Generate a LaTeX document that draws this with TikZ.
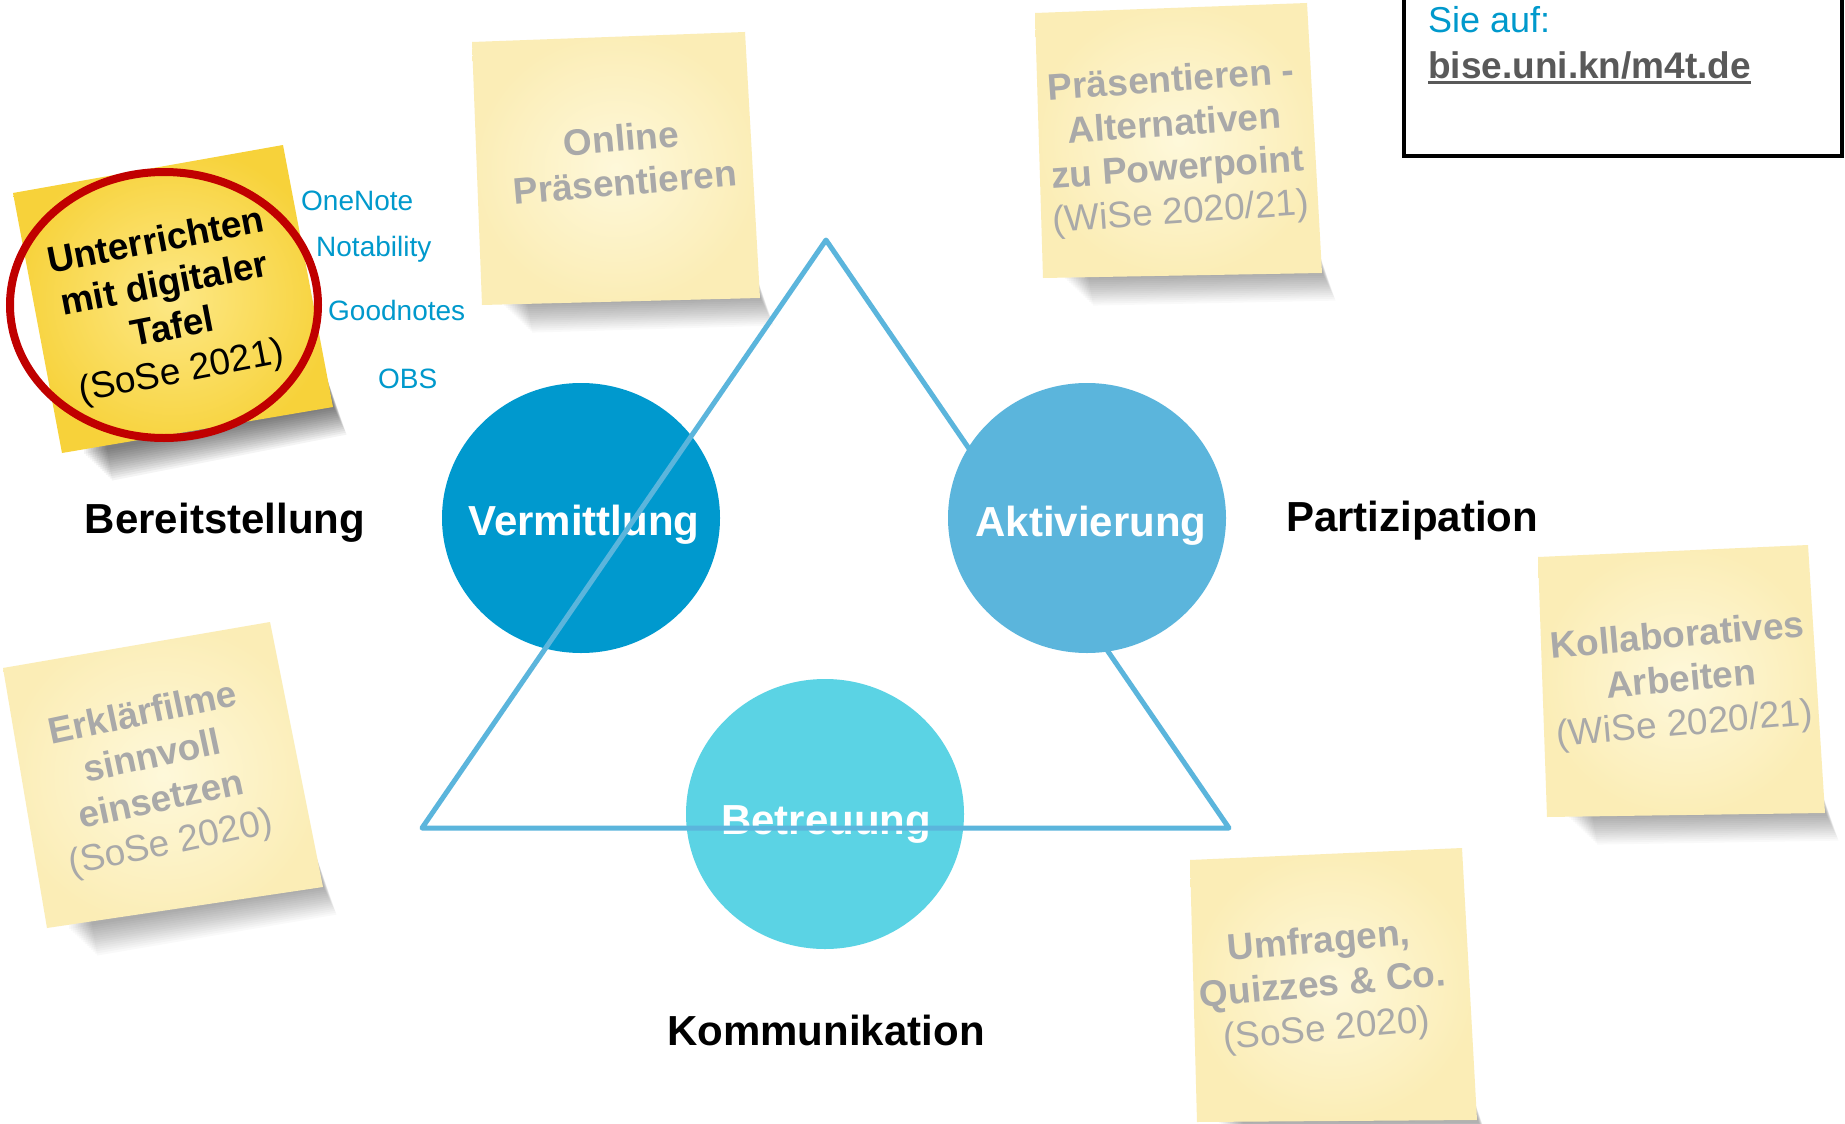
\documentclass[tikz,border=0pt]{standalone}
\usepackage{fontspec}
\setmainfont{Liberation Sans}
\usetikzlibrary{calc,shapes.geometric}
\definecolor{c1}{HTML}{0099CE}
\definecolor{c2}{HTML}{5BB5DC}
\definecolor{c3}{HTML}{5BD3E4}
\definecolor{tblue}{HTML}{0099CC}
\definecolor{ngray}{HTML}{A9A9A9}
\definecolor{noteA}{HTML}{FEF8DA}
\definecolor{noteB}{HTML}{FBEDB6}
\definecolor{yelA}{HTML}{FDE886}
\definecolor{yelB}{HTML}{F7D23A}
\definecolor{redring}{HTML}{C00000}
\definecolor{urlgray}{HTML}{595959}
\newcommand\stickynote[7]{% TL TR BR BL inner outer shadowopacity
  \foreach \k in {0,...,14}{
    \fill[black,opacity=#7] ($#4+(22+1.2*\k,-40)$) -- ($#3+(-10,-40)$) -- ($#3+(1+0.9*\k,1+1.9*\k)$) -- ($#4+(22+2*\k,1+1.9*\k)$) -- cycle;
  }
  \shade[inner color=#5, outer color=#6] #1 -- #2 -- #3 -- #4 -- cycle;
}
\tikzset{
  circtext/.style={text=white, font=\fontsize{42}{50}\selectfont\bfseries, inner sep=0, anchor=base},
  dimlabel/.style={text=black, font=\fontsize{42}{50}\selectfont\bfseries, inner sep=0, anchor=base},
  tool/.style={text=tblue, font=\fontsize{28}{34}\selectfont, inner sep=0, anchor=base west},
  notetext/.style={text=ngray, font=\fontsize{37}{44}\selectfont\bfseries, align=center, inner sep=0},
  bigcirc/.style={ellipse, minimum width=278pt, minimum height=270pt, inner sep=0},
  triline/.style={draw=c2, line width=5pt, line join=round, line cap=round},
}
\begin{document}
\begin{tikzpicture}[x=1pt,y=-1pt]
\useasboundingbox (0,0) rectangle (1845,1124);
\fill[white] (0,0) rectangle (1845,1124);

% sticky notes
\stickynote{(472,42)}{(745,32)}{(760,298)}{(482,305)}{noteA}{noteB}{0.022}
\stickynote{(1035,13)}{(1307,3)}{(1322,273)}{(1043,278)}{noteA}{noteB}{0.022}
\stickynote{(3,668)}{(270,622)}{(323,887)}{(47,928)}{noteA}{noteB}{0.022}
\stickynote{(1538,557)}{(1808,545)}{(1825,813)}{(1547,817)}{noteA}{noteB}{0.022}
\stickynote{(1190,860)}{(1462,848)}{(1477,1120)}{(1197,1122)}{noteA}{noteB}{0.022}
\stickynote{(13,193)}{(283,145)}{(333,407)}{(62,453)}{yelA}{yelB}{0.045}

\node[notetext, rotate=5] (n1) at (623,160) {Online\\Präsentieren};
\node[notetext, rotate=4] (n2) at (1176,148) {Präsentieren -\\Alternativen\\zu Powerpoint\\\mdseries(WiSe 2020/21)};
\node[notetext, rotate=12] (n3) at (157,780) {Erklärfilme\\sinnvoll\\einsetzen\\\mdseries(SoSe 2020)};
\node[notetext, rotate=5] (n4) at (1681,682) {Kollaboratives\\Arbeiten\\\mdseries(WiSe 2020/21)};
\node[notetext, rotate=5] (n5) at (1323,987) {Umfragen,\\Quizzes \& Co.\\\mdseries(SoSe 2020)};
\node[notetext, text=black, rotate=11] (n6) at (169,308) {Unterrichten\\mit digitaler\\Tafel\\\mdseries(SoSe 2021)};

% red ring
\draw[redring, line width=8pt] (164,305) ellipse [x radius=154, y radius=133];

% tool labels
\node[tool] (onenote) at (301,210) {OneNote};
\node[tool] (notability) at (316,256) {Notability};
\node[tool] (goodnotes) at (328,320) {Goodnotes};
\node[tool] (obs) at (378,388) {OBS};

% circles and triangle
\node[bigcirc, fill=c1] (vcirc) at (581,518) {};
\node[circtext] (vtext) at (584,535) {Vermittlung};
\node[bigcirc, fill=c3] (bcirc) at (825,814) {};
\node[circtext] (btext) at (826,834) {Betreuung};
\coordinate (apex) at (826,240);
\coordinate (bl) at (422,828);
\coordinate (br) at (1229,828);
\draw[triline] (apex) -- (br) -- (bl) -- cycle;
\node[bigcirc, fill=c2] (acirc) at (1087,518) {};
\node[circtext] (atext) at (1091,536) {Aktivierung};

% dimension labels
\node[dimlabel] (bereit) at (225,533) {Bereitstellung};
\node[dimlabel] (partiz) at (1412,531) {Partizipation};
\node[dimlabel] (kommu) at (826,1045) {Kommunikation};

% link box
\draw[black, line width=4pt, fill=white] (1404,-20) rectangle (1842,156);
\node[anchor=base west, inner sep=0, text=tblue, font=\fontsize{36}{43}\selectfont] (sie) at (1428,33) {Sie auf:};
\node[anchor=base west, inner sep=0, text=urlgray, font=\fontsize{37}{44}\selectfont\bfseries] (url) at (1428,78) {bise.uni.kn/m4t.de};
\draw[urlgray, line width=3pt] ($(url.base west)+(0,5)$) -- ($(url.base east)+(0,5)$);
\end{tikzpicture}
\end{document}
